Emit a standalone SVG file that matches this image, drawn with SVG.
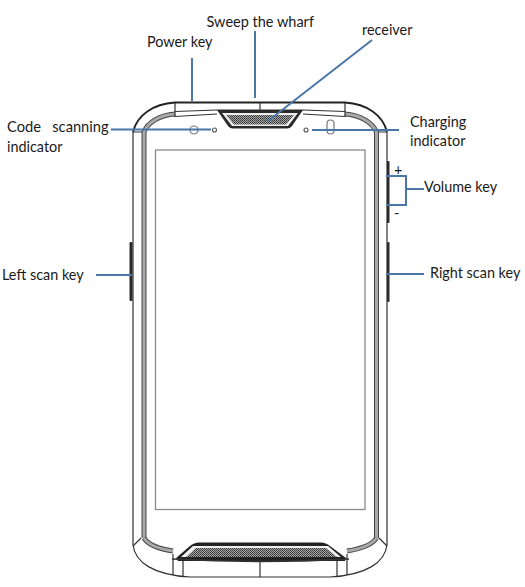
<svg xmlns="http://www.w3.org/2000/svg" width="525" height="587" viewBox="0 0 525 587">
<defs>
<pattern id="mesh" width="2" height="2" patternUnits="userSpaceOnUse"><rect width="2" height="2" fill="#a8a8a8"/><rect width="1" height="1" fill="#333"/><rect x="1" y="1" width="1" height="1" fill="#444"/></pattern>
<filter id="soft" x="-5%" y="-5%" width="110%" height="110%"><feGaussianBlur stdDeviation="0.35"/></filter>
</defs>
<style>
.t{font-family:Lato,"Liberation Sans",sans-serif;font-size:14.4px;fill:#1a1a1a}
.o{fill:none;stroke:#333;stroke-width:1.2}
.d{fill:none;stroke:#222;stroke-width:1.8}
.b1{fill:none;stroke:#444;stroke-width:5}
.b2{fill:none;stroke:#a8a8a8;stroke-width:3}
.c{fill:none;stroke:#4a76a8;stroke-width:2}
.k{fill:#2a2a2a}
</style>
<rect width="525" height="587" fill="#fff"/>
<g id="phone" filter="url(#soft)">
<path class="d" d="M133 132C137 115 153 104 175 102.500L345 102.500C367 104 383 115 387 132"/>
<path class="o" d="M133 132L133 545C135 562 153 575 190 577L330 577C367 575 385 562 387 545L387 132"/>
<path class="o" d="M133 132L142 132M387 132L378 132"/>
<path class="o" d="M133 546L141 538M387 546L379 538"/>
<path class="b1" d="M144 538L144 132C148 122 160 115 175 114M376.500 538L376.500 132C372 122 360 115 345 114"/>
<path class="b2" d="M144 538L144 132C148 122 160 115 175 114M376.500 538L376.500 132C372 122 360 115 345 114"/>
<path class="b1" stroke-width="4.500" d="M144 538C148 545 160 549 173 551M376.500 538C372 545 360 549 347 551"/>
<path class="b2" stroke-width="2.500" d="M144 538C148 545 160 549 173 551M376.500 538C372 545 360 549 347 551"/>
<path class="o" d="M175 103L175 117M345 103L345 117M260 102L260 110"/>
<path class="o" d="M175 111.500L217 110L303 110L345 111.500M175 116.500L217 114M345 116.500L303 114"/>
<path class="o" d="M173 554L173 575M183 558L183 576M260 560L260 577M337 558L337 576M347 554L347 575"/>
<rect id="screen" x="155.500" y="150" width="209.500" height="359.500" fill="none" stroke="#8a8a8a" stroke-width="1.300"/>
</g>
<g id="receiver" filter="url(#soft)">
<path d="M217 110L303 110L292 126Q290 128.500 287 128.500L233 128.500Q230 128.500 228 126Z" fill="#2a2a2a"/>
<path d="M222 113L298 113L288 126L232 126Z" fill="#eee"/>
<path d="M226 115L294 115L286 124.500L234 124.500Z" fill="url(#mesh)"/>
</g>
<g id="bottom-speaker" filter="url(#soft)">
<path d="M176 558L190 546Q194 542.500 199 542.500L321 542.500Q326 542.500 330 546L346 558L345 561L178 561Z" fill="#222"/>
<path d="M181 557L193 546L328 546L341 557Z" fill="#f2f2f2"/>
<path d="M186 557L196 548L326 548L337 557Z" fill="url(#mesh)"/>
<path d="M172 559Q260 564 349 559" fill="none" stroke="#333" stroke-width="1.500"/>
</g>
<g id="top-sensors">
<circle cx="194" cy="130" r="4" fill="none" stroke="#777" stroke-width="1.200"/>
<circle cx="214.500" cy="130" r="2" fill="none" stroke="#555" stroke-width="1.100"/>
<circle cx="306" cy="130" r="2" fill="none" stroke="#555" stroke-width="1.100"/>
<rect x="327" y="120" width="7" height="14" rx="3.500" fill="none" stroke="#777" stroke-width="1.200"/>
</g>
<g id="side-keys">
<rect x="129.500" y="242" width="3" height="59" rx="1" class="k"/>
<rect x="387" y="161" width="2.500" height="62" rx="1" class="k"/>
<rect x="387" y="242" width="2.500" height="60" rx="1" class="k"/>
</g>
<g id="connectors">
<path class="c" d="M192 58L192 101"/>
<path class="c" d="M255 31L255 98"/>
<path class="c" d="M372 40L268 121"/>
<path class="c" d="M111 129.500L211 129.500"/>
<path class="c" d="M312 130L399 130"/>
<path class="c" d="M386 176L406 176L406 205L386 205M406 189L424 189"/>
<path class="c" d="M96 275L132 275"/>
<path class="c" d="M386 274L424 274"/>
</g>
<g id="labels">
<text class="t" x="147" y="47">Power key</text>
<text class="t" x="206.500" y="27" style="font-size:14.500px">Sweep the wharf</text>
<text class="t" x="362" y="35">receiver</text>
<text class="t" x="7" y="132" xml:space="preserve" style="font-size:14.700px">Code   scanning</text>
<text class="t" x="7" y="152">indicator</text>
<text class="t" x="410" y="127">Charging</text>
<text class="t" x="410" y="146">indicator</text>
<text class="t" x="394" y="175">+</text>
<text class="t" x="394" y="218">-</text>
<text class="t" x="424" y="192">Volume key</text>
<text class="t" x="2" y="280">Left scan key</text>
<text class="t" x="430" y="278">Right scan key</text>
</g>
</svg>
